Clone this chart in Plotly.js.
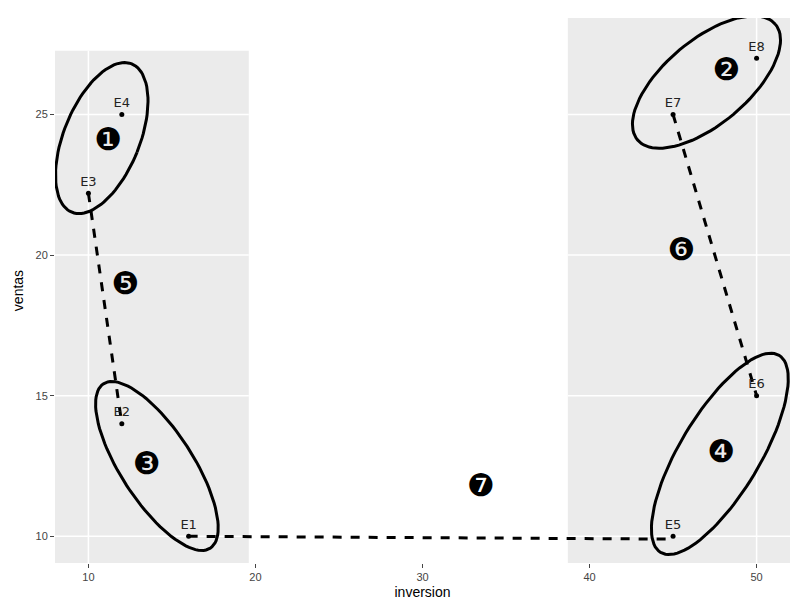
<!DOCTYPE html>
<html>
<head>
<meta charset="utf-8">
<script src="https://cdn.plot.ly/plotly-3.0.1.min.js"></script>
<style>body{margin:0;background:#fff}</style>
</head>
<body>
<div id="chart" style="width:804px;height:603px"></div>
<script>
var labels = ["E1", "E2", "E3", "E4", "E5", "E6", "E7", "E8"];
var inversion = [16, 12, 10, 12, 45, 50, 45, 50];
var ventas = [10, 14, 22.2, 25, 10, 15, 25, 27];
var paths = [[2, 1], [0, 4], [6, 5]];
var groupNums = ["❶", "❷", "❸", "❹", "❺", "❻", "❼"];
var groupX = [11.2, 48.2, 13.5, 47.9, 12.2, 45.5, 33.5];
var groupY = [24.0, 26.5, 12.5, 12.9, 18.9, 20.1, 11.7];

var XR = [8.0, 52.0], YR = [9.05, 28.43];
var W = 735, H = 545;
var pxX = (XR[1] - XR[0]) / W, pxY = (YR[1] - YR[0]) / H;

// ellipse outline: centre in data units, semi-axes in px, tilt in degrees from vertical
function ellipse(cx, cy, a, b, deg) {
  var t = deg * Math.PI / 180, xs = [], ys = [];
  for (var i = 0; i <= 100; i++) {
    var u = i / 100 * 2 * Math.PI;
    var dx = b * Math.cos(u), dy = a * Math.sin(u);
    var rx = dx * Math.cos(t) + dy * Math.sin(t);
    var ry = -dx * Math.sin(t) + dy * Math.cos(t);
    xs.push(cx + rx * pxX);
    ys.push(cy + ry * pxY);
  }
  return { x: xs, y: ys, type: "scatter", mode: "lines", hoverinfo: "skip",
    line: { color: "#000", width: 3 }, showlegend: false };
}

var traces = [];
paths.forEach(function (p) {
  traces.push({ x: [inversion[p[0]], inversion[p[1]]], y: [ventas[p[0]], ventas[p[1]] - (p[1] === 4 ? 0.1 : 0)],
    type: "scatter", mode: "lines", line: { color: "#000", width: 3, dash: "dash" }, showlegend: false });
});
traces.push(ellipse(10.8, 24.16, 80, 38, 22));
traces.push(ellipse(47.0, 26.15, 42, 90, -40));
traces.push(ellipse(14.1, 12.5, 98, 36, -33));
traces.push(ellipse(47.8, 12.93, 115, 40, 31));
traces.push({ x: inversion, y: ventas, text: labels, type: "scatter", mode: "markers+text",
  textposition: "top center", textfont: { family: "DejaVu Sans", size: 13, color: "#222" },
  marker: { color: "#000", size: 5 }, showlegend: false });
traces.push({ x: groupX, y: groupY, text: groupNums, type: "scatter", mode: "text",
  textfont: { family: "DejaVu Sans", size: 31, color: "#000" }, showlegend: false });

var layout = {
  width: 804, height: 603,
  margin: { l: 55, r: 14, t: 18, b: 40 },
  paper_bgcolor: "#fff", plot_bgcolor: "#fff",
  font: { family: "Liberation Sans, Arial", color: "#333" },
  xaxis: { range: XR, tickvals: [10, 20, 30, 40, 50], showgrid: false, zeroline: false,
    ticks: "outside", ticklen: 4, tickcolor: "#444", tickfont: { size: 11, color: "#444" },
    title: { text: "inversion", font: { size: 14, color: "#000" }, standoff: 4 } },
  yaxis: { range: YR, tickvals: [10, 15, 20, 25], showgrid: false, zeroline: false,
    ticks: "outside", ticklen: 4, tickcolor: "#444", tickfont: { size: 11, color: "#444" },
    title: { text: "ventas", font: { size: 14, color: "#000" }, standoff: 8 } },
  shapes: [
    { type: "rect", xref: "x", yref: "paper", x0: 8.0, x1: 19.6, y0: 0, y1: 0.94, fillcolor: "#ebebeb", line: { width: 0 }, layer: "below" },
    { type: "rect", xref: "x", yref: "paper", x0: 38.7, x1: 52, y0: 0, y1: 1, fillcolor: "#ebebeb", line: { width: 0 }, layer: "below" }
  ]
};
[10, 15, 20, 25].forEach(function (v) {
  layout.shapes.push({ type: "line", xref: "x", yref: "y", x0: 8, x1: 19.6, y0: v, y1: v, line: { color: "#fff", width: 1.5 }, layer: "below" });
  layout.shapes.push({ type: "line", xref: "x", yref: "y", x0: 38.7, x1: 52, y0: v, y1: v, line: { color: "#fff", width: 1.5 }, layer: "below" });
});
[10, 50].forEach(function (v) {
  layout.shapes.push({ type: "line", xref: "x", yref: "paper", x0: v, x1: v, y0: 0, y1: v < 30 ? 0.94 : 1, line: { color: "#fff", width: 1.5 }, layer: "below" });
});

Plotly.newPlot("chart", traces, layout, { displayModeBar: false });
</script>
</body>
</html>
